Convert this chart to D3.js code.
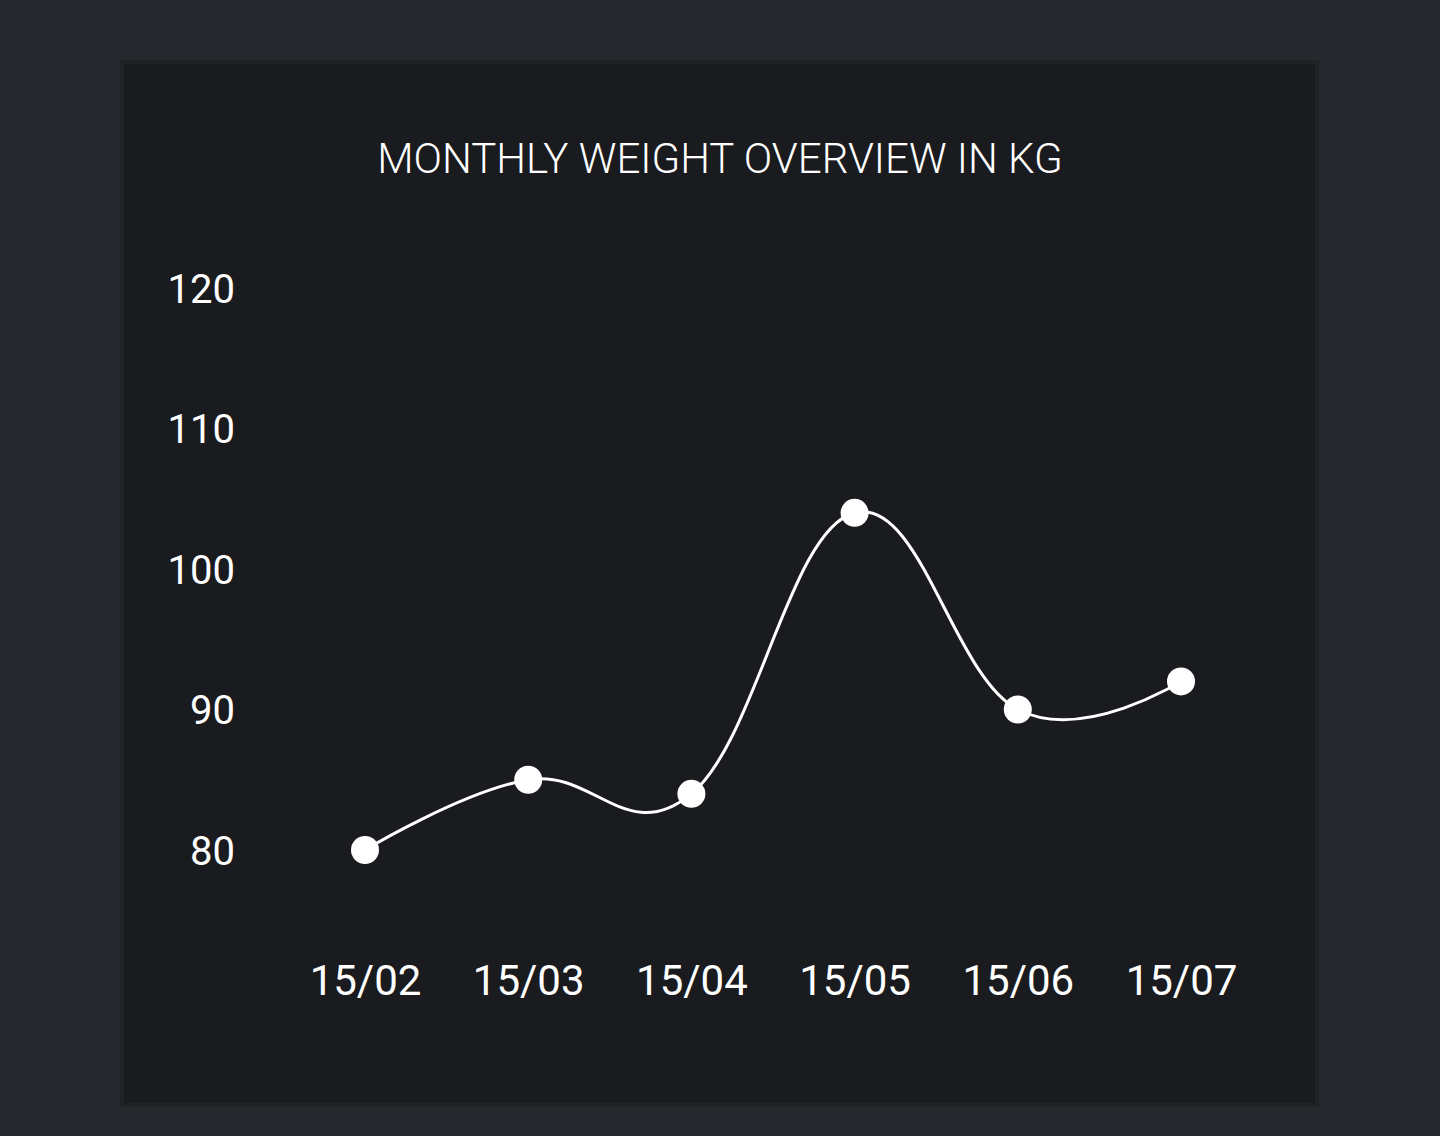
<!DOCTYPE html>
<html>
<head>
<meta charset="utf-8">
<script src="https://cdn.jsdelivr.net/npm/d3@7"></script>
<style>
  html, body { margin: 0; padding: 0; background: #25282d; }
  #chart { width: 1440px; height: 1136px; }
</style>
</head>
<body>
<div id="chart"></div>
<script>
// Chart data
const dates = ['15/02', '15/03', '15/04', '15/05', '15/06', '15/07'];
const weights = [80, 85, 84, 104, 90, 92];
const yTicks = [80, 90, 100, 110, 120];
const title = 'MONTHLY WEIGHT OVERVIEW IN KG';

const container = document.getElementById('chart');
const width = 1440;
const height = 1136;

const svg = d3.select(container)
    .append('svg')
    .attr('width', width)
    .attr('height', height);

// Page background
svg.append('rect')
    .attr('width', width)
    .attr('height', height)
    .attr('fill', '#25282d');

// Card with a thin border
svg.append('rect')
    .attr('x', 122)
    .attr('y', 62)
    .attr('width', 1195)
    .attr('height', 1043)
    .attr('fill', '#1a1b1e')
    .attr('stroke', '#202226')
    .attr('stroke-width', 4);

// Title
svg.append('text')
    .attr('x', 720)
    .attr('y', 173)
    .attr('text-anchor', 'middle')
    .style('font-family', 'Roboto, sans-serif')
    .style('font-weight', 300)
    .style('font-size', '42px')
    .style('fill', '#ffffff')
    .text(title);

// Scales
const x = d3.scalePoint()
    .domain(dates)
    .range([365, 1181]);

const y = d3.scaleLinear()
    .domain([80, 120])
    .range([850, 288]);

// Y axis labels
const yAxis = svg.append('g')
    .attr('transform', 'translate(235,0)')
    .call(d3.axisLeft(y).tickValues(yTicks).tickSize(0).tickPadding(0));
yAxis.select('.domain').remove();
yAxis.selectAll('text')
    .attr('dy', '0.36em')
    .style('font-family', 'Roboto, sans-serif')
    .style('font-size', '40px')
    .style('fill', '#ffffff');

// X axis labels
const xAxis = svg.append('g')
    .attr('transform', 'translate(0,995)')
    .call(d3.axisBottom(x).tickSize(0).tickPadding(0));
xAxis.select('.domain').remove();
xAxis.selectAll('text')
    .attr('dy', '0')
    .style('font-family', 'Roboto, sans-serif')
    .style('font-size', '42px')
    .style('fill', '#ffffff');

// Smooth line
const line = d3.line()
    .x((d, i) => x(dates[i]))
    .y(d => y(d))
    .curve(d3.curveCardinal.tension(-0.2));

svg.append('path')
    .datum(weights)
    .attr('d', line)
    .attr('fill', 'none')
    .attr('stroke', '#ffffff')
    .attr('stroke-width', 3);

// Points
svg.selectAll('.pt')
    .data(weights)
    .enter()
    .append('circle')
    .attr('class', 'pt')
    .attr('cx', (d, i) => x(dates[i]))
    .attr('cy', d => y(d))
    .attr('r', 14)
    .attr('fill', '#ffffff');
</script>
</body>
</html>
